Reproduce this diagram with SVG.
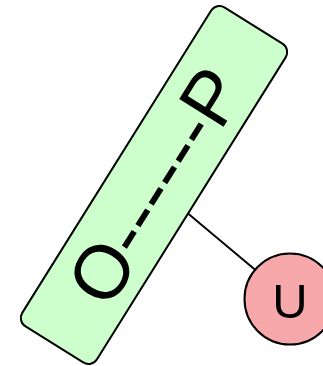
<svg xmlns="http://www.w3.org/2000/svg" width="323" height="366" viewBox="0 0 323 366">
<style>
.edge{stroke:#000;stroke-width:1.9;fill:none}
.shape{stroke:#000;stroke-width:2}
.lbl{font-family:"Liberation Sans",Arial,sans-serif;fill:#000}
</style>
<rect width="323" height="366" fill="#fff"/>
<g id="connectors">
<line class="edge" x1="154" y1="185" x2="290" y2="299"/>
</g>
<g id="node-op" transform="translate(154,185) rotate(-58)">
<rect class="shape" x="-188" y="-44" width="376" height="88" rx="10" ry="10" fill="#ccffcc"/>
<text class="lbl" x="0" y="28" font-size="76" text-anchor="middle">O------P</text>
</g>
<g id="node-u">
<circle class="shape" cx="290" cy="299" r="45.5" fill="#f7a8ab"/>
<text class="lbl" x="290" y="317.5" font-size="49" text-anchor="middle">U</text>
</g>
</svg>
